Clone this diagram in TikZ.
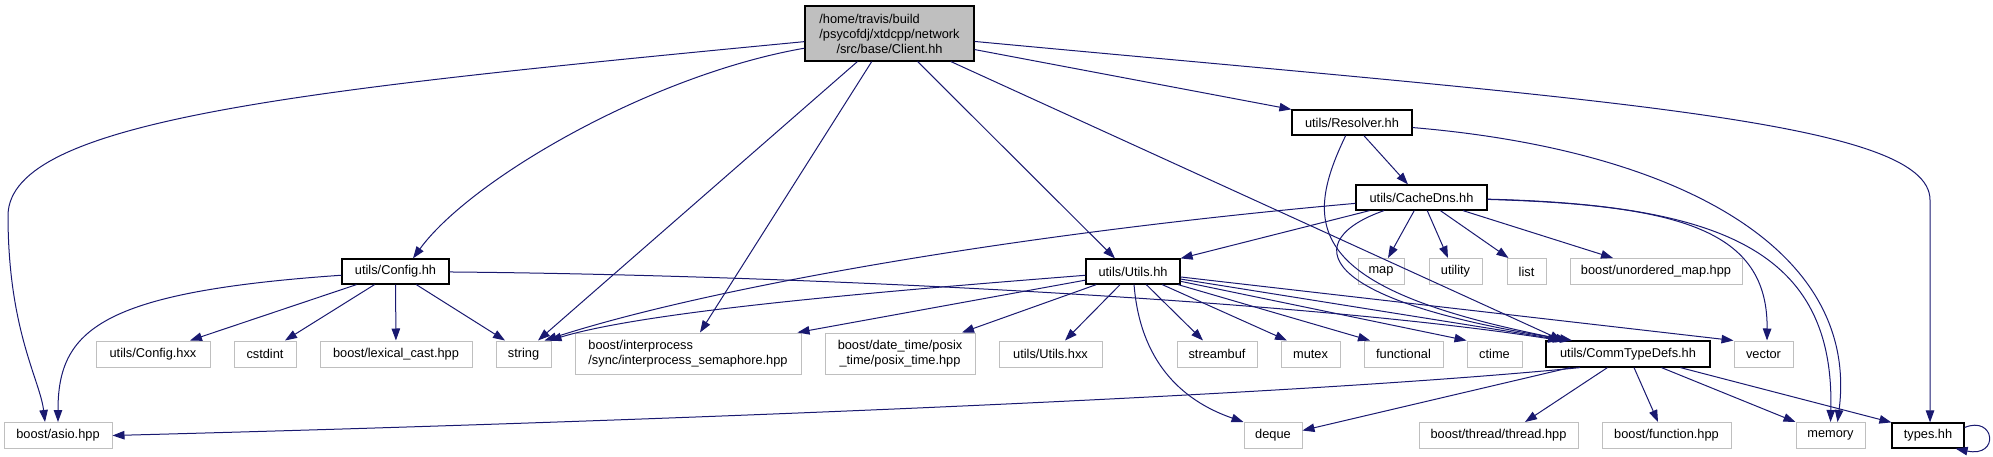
\documentclass[tikz,border=0pt]{standalone}
\usepackage{fontspec}
\setmainfont{Liberation Sans}
\usepackage{tikz}
\usetikzlibrary{arrows.meta,calc}
\definecolor{edgeblue}{RGB}{25,25,112}
\definecolor{leafgray}{RGB}{191,191,191}
\definecolor{rootgray}{RGB}{191,191,191}
\newcommand{\dotfont}{\fontsize{12.8}{15}\selectfont}
\tikzset{
  hdrbox/.style ={rectangle, draw=black, line width=1.2pt, fill=white, inner sep=0pt,
                  minimum height=25pt, font=\dotfont},
  sysbox/.style ={rectangle, draw=leafgray, line width=1pt, fill=white, inner sep=0pt,
                  minimum height=26pt, font=\dotfont},
  dep/.style    ={-{Triangle[length=12pt,width=8.5pt]}, line width=1pt, draw=edgeblue}
}

\begin{document}
\begin{tikzpicture}[x=1pt,y=-1pt]
\useasboundingbox (0,0) rectangle (1993,457);
% headers
\node[hdrbox, fill=rootgray, minimum width=169pt, minimum height=55pt, align=center] (client) at (889.5,33.5)
  {\rlap{/home/travis/build}\phantom{/psycofdj/xtdcpp/network}\\/psycofdj/xtdcpp/network\\/src/base/Client.hh};
\node[hdrbox, minimum width=120pt] (resolver) at (1352,122.5) {utils/Resolver.hh};
\node[hdrbox, minimum width=131pt] (cachedns) at (1421.5,197.5) {utils/CacheDns.hh};
\node[hdrbox, minimum width=107pt] (config) at (395.5,271.5) {utils/Config.hh};
\node[hdrbox, minimum width=94pt] (utils) at (1133,271.5) {utils/Utils.hh};
\node[hdrbox, minimum width=164pt, minimum height=26pt] (ctd) at (1628,354) {utils/CommTypeDefs.hh};
\node[hdrbox, minimum width=72pt] (types) at (1928,435.5) {types.hh};
% system / external includes
\foreach \nm/\xx/\yy/\ww/\txt in {map/1381/271.5/46/map, utility/1455.5/271.5/53/utility,
    list/1526.5/271.5/39/list, umap/1656/271.5/172/{boost/unordered\_map.hpp},
    cfghxx/153/354/114/{utils/Config.hxx}, cstdint/265/354/62/cstdint,
    lexcast/396/354/152/{boost/lexical\_cast.hpp}, string/523.5/354/55/string,
    utilshxx/1050.5/354/103/{utils/Utils.hxx}, streambuf/1217/354/80/streambuf,
    mutex/1310.5/354/59/mutex, functional/1403.5/354/79/functional,
    ctime/1494.5/354/55/ctime, vector/1763.5/354/59/vector,
    asio/58/435.5/108/{boost/asio.hpp}, deque/1273/435.5/58/deque,
    thread/1498.5/435.5/159/{boost/thread/thread.hpp}, function/1666.5/435.5/129/{boost/function.hpp},
    memory/1830.5/435.5/69/memory}{
  \node[sysbox, minimum width=\ww pt] (\nm) at (\xx,\yy) {\txt};
}
\node[sysbox, minimum width=226pt, minimum height=41pt, align=left] (ipsem) at (688,353.5)
  {boost/interprocess\\/sync/interprocess\_semaphore.hpp};
\node[sysbox, minimum width=150pt, minimum height=41pt, align=center] (posixtime) at (900,353.5)
  {boost/date\_time/posix\\\_time/posix\_time.hpp};
% Client.hh
\draw[dep] (client) .. controls (300,90) and (10,120) .. (8,215)
  .. controls (8,330) and (40,380) .. ($(asio.north)+(-13,0)$);
\draw[dep] (client) .. controls (650,75) and (470,180) .. ($(config.north)+(17.5,0)$);
\draw[dep] (client) -- ($(string.north)+(14.5,0)$);
\draw[dep] (client) -- ($(ipsem.north)+(12,0)$);
\draw[dep] (client) -- ($(utils.north)+(-18,0)$);
\draw[dep] (client) -- ($(ctd.north)+(-66,0)$);
\draw[dep] (client) -- (resolver.north west);
\draw[dep] (client) .. controls (1600,100) and (1930,120) .. (1930,200) -- ($(types.north)+(2,0)$);
% Resolver.hh
\draw[dep] (resolver) -- ($(cachedns.north)+(-13.5,0)$);
\draw[dep] (resolver) .. controls (1300,230) and (1310,290) .. ($(ctd.north)+(-60,0)$);
\draw[dep] (resolver) .. controls (1680,150) and (1860,250) .. ($(memory.north)+(7,0)$);
% CacheDns.hh
\draw[dep] (cachedns) .. controls (1000,235) and (700,290) .. ($(string.north)+(21,0)$);
\draw[dep] (cachedns) -- (utils.north east);
\draw[dep] (cachedns) -- ($(map.north)+(7,0)$);
\draw[dep] (cachedns) -- ($(utility.north)+(-7.5,0)$);
\draw[dep] (cachedns) -- ($(list.north west)+(2,0)$);
\draw[dep] (cachedns) -- ($(umap.north)+(-43,0)$);
\draw[dep] (cachedns) .. controls (1680,205) and (1768,230) .. ($(vector.north)+(3.5,0)$);
\draw[dep] (cachedns) .. controls (1720,205) and (1835,250) .. (memory.north);
\draw[dep] (cachedns) .. controls (1300,240) and (1310,300) .. ($(ctd.north)+(-56,0)$);
% Config.hh
\draw[dep] (config) .. controls (100,292) and (58,330) .. (asio.north);
\draw[dep] (config) -- ($(cfghxx.north)+(37,0)$);
\draw[dep] (config) -- ($(cstdint.north)+(20,0)$);
\draw[dep] (config) -- (lexcast);
\draw[dep] (config) -- ($(string.north)+(-18.5,0)$);
\draw[dep] (config) .. controls (800,275) and (1300,300) .. ($(ctd.north)+(-68,0)$);
% Utils.hh
\draw[dep] (utils) .. controls (900,290) and (650,310) .. ($(string.north)+(26,0)$);
\draw[dep] (utils) -- ($(ipsem.north east)+(-4,0)$);
\draw[dep] (utils) -- ($(posixtime.north)+(62,0)$);
\draw[dep] (utils) -- ($(utilshxx.north)+(14.5,0)$);
\draw[dep] (utils) .. controls (1140,360) and (1180,400) .. (deque.north west);
\draw[dep] (utils) -- ($(streambuf.north)+(-14,0)$);
\draw[dep] (utils) -- ($(mutex.north)+(-23.5,0)$);
\draw[dep] (utils) -- ($(functional.north)+(-33.5,0)$);
\draw[dep] (utils) -- (ctime.north west);
\draw[dep] (utils) -- ($(ctd.north)+(-63,0)$);
\draw[dep] (utils) -- (vector.north west);
% CommTypeDefs.hh
\draw[dep] ($(ctd.south)+(-48,0)$) .. controls (1300,395) and (700,420) .. (asio.east);
\draw[dep] (ctd) -- ($(deque.east)+(0,-5)$);
\draw[dep] (ctd) -- ($(thread.north)+(26.5,0)$);
\draw[dep] (ctd) -- ($(function.north)+(-8.5,0)$);
\draw[dep] (ctd) -- (memory.north west);
\draw[dep] (ctd) -- (types.north west);
% types.hh
\draw[dep] ($(types.east)+(0,-8)$) .. controls (1995,415) and (2000,458) .. ($(types.south east)+(-9,0)$);
\end{tikzpicture}
\end{document}
